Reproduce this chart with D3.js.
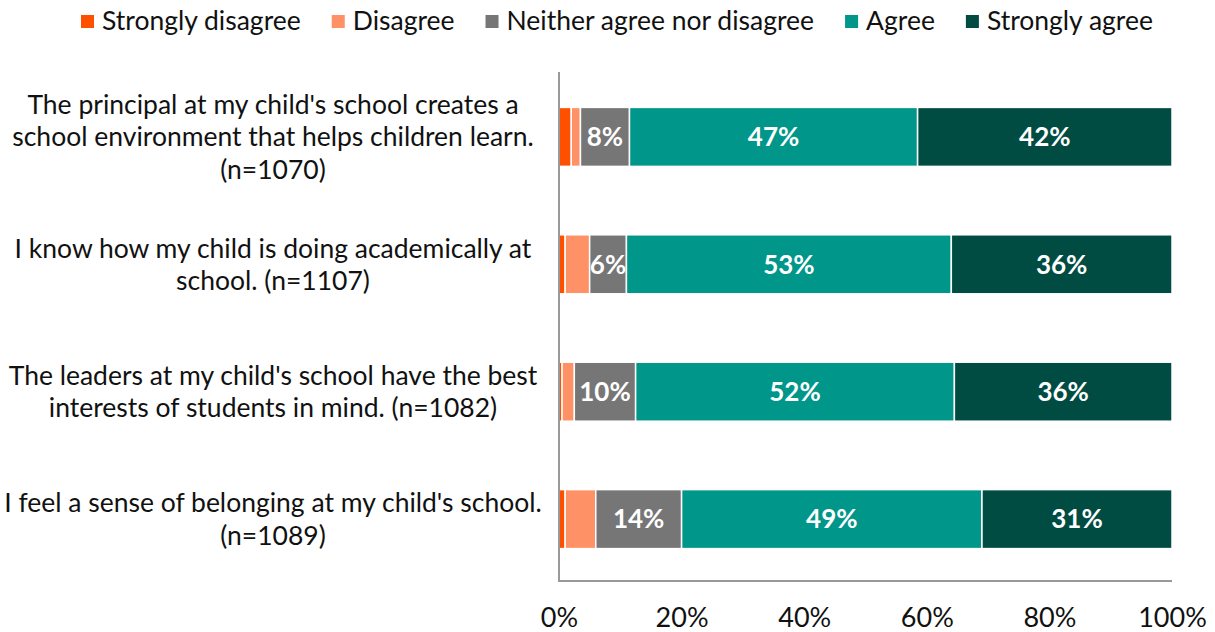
<!DOCTYPE html>
<html><head><meta charset="utf-8">
<script src="https://cdn.jsdelivr.net/npm/d3@7"></script>
<style>body{margin:0;background:#fff;font-family:Lato,sans-serif;}</style>
</head><body><svg id="c" width="1215" height="632"></svg>
<script>
const categories = [
  ["The principal at my child's school creates a","school environment that helps children learn.","(n=1070)"],
  ["I know how my child is doing academically at","school. (n=1107)"],
  ["The leaders at my child's school have the best","interests of students in mind. (n=1082)"],
  ["I feel a sense of belonging at my child's school.","(n=1089)"]
];
const seriesNames = ["Strongly disagree","Disagree","Neither agree nor disagree","Agree","Strongly agree"];
const colors = ["#FF5000","#FF9166","#767676","#00968A","#004C42"];
const stronglyDisagree = [2, 1, 0.5, 1];
const disagree = [1.5, 4, 2, 5];
const neither = [8, 6, 10, 14];
const agree = [47, 53, 52, 49];
const stronglyAgree = [41.5, 36, 35.5, 31];
const showLabel = [false, false, true, true, true];
const tickValues = [0, 20, 40, 60, 80, 100];

const series = [stronglyDisagree, disagree, neither, agree, stronglyAgree];
const svg = d3.select("#c");
const x = d3.scaleLinear().domain([0,100]).range([559,1172]);
const y = d3.scaleBand().domain(d3.range(categories.length)).range([73,583]).paddingInner(0.537).paddingOuter(0.27);

const rows = categories.map((c,i)=>{
  const r = {i};
  let acc = 0;
  r.segs = series.map((s,k)=>{ const seg={k,x0:acc,x1:acc+s[i],v:s[i]}; acc+=s[i]; return seg;});
  return r;
});

const g = svg.append("g");
rows.forEach(r=>{
  g.selectAll(null).data(r.segs).join("rect")
    .attr("x",d=>x(d.x0)).attr("width",d=>Math.max(0,x(d.x1)-x(d.x0)))
    .attr("y",y(r.i)).attr("height",y.bandwidth())
    .attr("fill",d=>colors[d.k]).attr("stroke","#fff").attr("stroke-width",1.5);
  g.selectAll(null).data(r.segs.filter(d=>showLabel[d.k])).join("text")
    .attr("x",d=>x((d.x0+d.x1)/2)).attr("y",y(r.i)+y.bandwidth()/2)
    .attr("dy","0.36em").attr("text-anchor","middle")
    .attr("fill","#fff").attr("font-weight","bold").attr("font-size",26)
    .text(d=>Math.round(d.v)+"%");
});

// axis lines
svg.append("line").attr("x1",x(0)).attr("x2",x(0)).attr("y1",72).attr("y2",581).attr("stroke","#999").attr("stroke-width",2);
svg.append("line").attr("x1",x(0)-1).attr("x2",x(100)).attr("y1",581).attr("y2",581).attr("stroke","#999").attr("stroke-width",2);

const xAxis = d3.axisBottom(x).tickValues(tickValues).tickFormat(d=>d+"%").tickSize(0).tickPadding(0);
const ax = svg.append("g").attr("transform","translate(0,617)").call(xAxis);
ax.select(".domain").remove();
ax.selectAll("text").attr("font-family","Lato").attr("font-size",27).attr("fill","#111").attr("dy","0.36em");

// category labels
categories.forEach((lines,i)=>{
  const cy = y(i)+y.bandwidth()/2;
  const lh = 32.5;
  const t = svg.append("text").attr("text-anchor","middle").attr("font-size",26.5).attr("fill","#111");
  lines.forEach((l,j)=>{
    t.append("tspan").attr("x",273).attr("y",cy+(j-(lines.length-1)/2)*lh).attr("dy","0.36em").text(l);
  });
});

// legend
const lg = svg.append("g");
let lx = 81;
seriesNames.forEach((n,k)=>{
  lg.append("rect").attr("x",lx).attr("y",15).attr("width",13).attr("height",13).attr("fill",colors[k]);
  const t = lg.append("text").attr("x",lx+21).attr("y",20).attr("dy","0.36em").attr("font-size",26.5).attr("fill","#111").text(n);
  lx += 21 + t.node().getComputedTextLength() + 31;
});
</script></body></html>
